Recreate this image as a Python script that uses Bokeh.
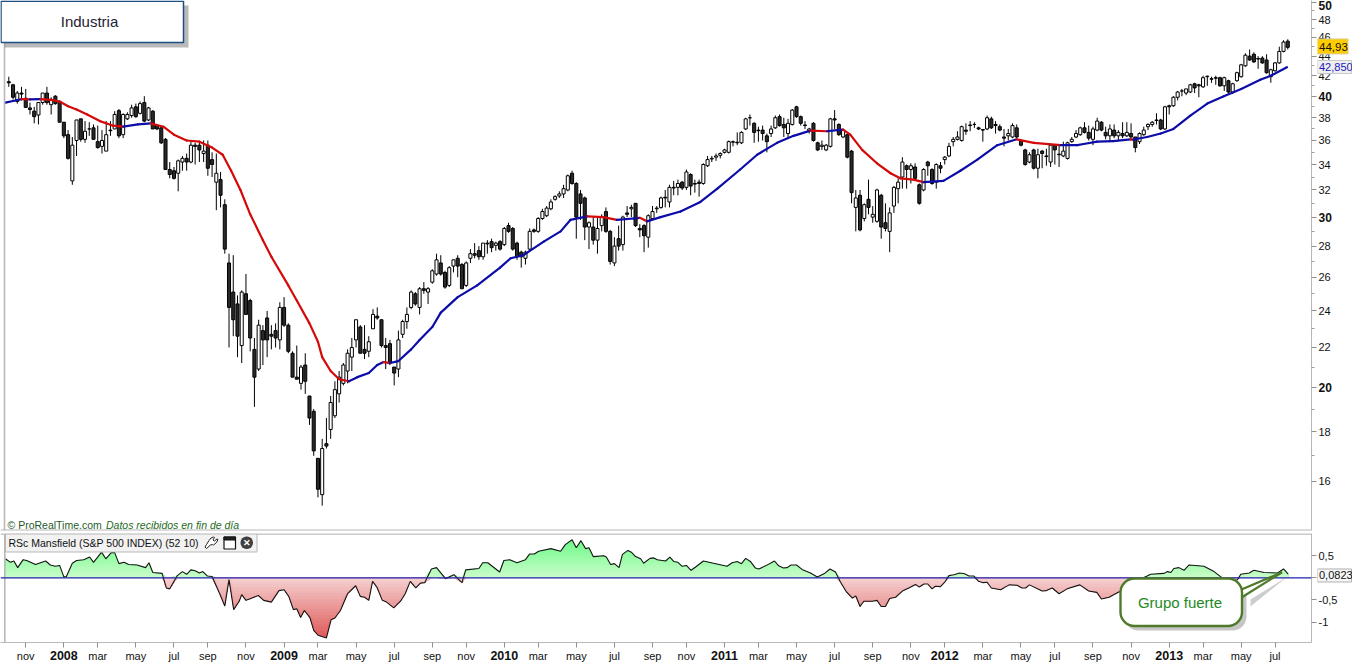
import numpy as np
from bokeh.plotting import figure
from bokeh.layouts import column, row
from bokeh.embed import file_html
from bokeh.resources import INLINE
from bokeh.core.properties import value
from bokeh.models import Range1d, FixedTicker, Label, BoxAnnotation, PolyAnnotation, Span

opens = [41.4,41.1,39.5,40.3,39.8,38.9,38.6,38.25,39.4,40.3,
39.2,40,39.5,37.6,36.5,32.7,36,37.9,36.1,37,
37.1,35.9,35.5,35.1,36.9,37,38.65,36.5,37.9,38.2,
39,38.4,39.4,37.8,38.6,37.3,37.1,36.1,33.6,33.5,
33.3,34.2,34.5,34.2,35.6,35.6,34.9,35.6,34.4,32.6,
32.8,30.9,26.9,25.1,24.4,22.1,25,24.6,21.9,20.9,
22.9,23.6,22.7,22.9,22.4,24.2,23.2,21.7,20.5,20.2,
21.1,19.6,18.9,16.9,15.5,17.5,18.1,18.7,19.7,20.2,
20.8,21.5,22.4,23.1,21.9,21.8,23,23.7,23.5,22.1,
22.2,21,20.9,22.7,23.4,24.2,25,24.2,25.3,25.1,
25.7,26.2,26.9,26.3,25.5,26.7,27.2,26.8,25.5,27.2,
27.5,27.7,27.3,28.2,28.3,28.05,28.3,28.1,29.4,29.2,
28.2,27.6,27.2,27.8,29.1,29,29.9,30.1,30.6,31.3,
31.55,31.7,32,33.3,32.5,31.7,31.4,29.3,29.3,28.4,
29.4,30.4,29,26.9,28.5,28.1,30.3,30.6,31,29.2,
29.4,28.6,29.9,30.6,30.7,31.45,31.1,32.2,32.2,32.6,
32.2,33.2,32.5,32.6,32.5,33.9,34.45,34.6,34.75,35,
35,35.85,35.85,35.8,37,38,37.5,36.9,36.9,36.4,
36.6,37.1,38.1,37.4,36.6,37.4,39,38.1,37.35,36.8,
37.5,35.8,35.5,35.2,35.5,37.9,37.4,36.3,36.5,35.1,
30.7,31.6,29.9,31.3,30,29.7,31.6,29.6,29,30.8,
32.1,33,33.9,33.6,33.8,32.4,32,34.2,33.6,32.6,
33.9,34.4,34.7,35.9,36.1,36,36.9,37.3,37.4,37.1,
36.95,37,37.9,37.4,37.2,36.3,36.4,36.3,37.1,36,
35.2,34.2,35.2,33.7,35.1,34.7,34.2,35.6,34.85,34.7,
34.5,35.9,36.3,36.5,37.1,36.7,36.1,36.9,37.6,36.7,
36.4,36.9,36.4,36.6,36.4,36.6,36.3,35.9,36.5,37.2,
37.4,37.8,37.8,37,39.1,39.1,39.9,40.5,40.3,40.4,
41.2,41.1,40.9,41.9,41.7,41.8,41.8,41,41.5,40.4,
41.5,41.9,43,44,44.2,43.75,43.8,43.6,41.9,42.5,43.3,44.5,45.6]

closes = [41.3,39.9,40.3,40.2,38.95,38.75,38.1,39.4,40.3,39.4,
39.7,39.3,37.6,36.4,34.5,35.6,37.8,36.1,36.8,37,
36.1,35.4,36,36.5,36.85,38.3,36.4,38.3,38.3,38.9,
38.1,39.3,37.7,38.9,37,37,35.8,33.6,33.2,32.9,
34.3,34.5,34.2,35.6,35.5,35.2,35.1,33.7,34,33.3,
31.6,27.8,24.2,23.5,22.6,25.1,23.8,22.5,20.5,23.2,
22.4,22.4,22.6,22.5,24.2,23.2,21.8,20.5,20.4,21,
20.3,18.6,17.2,15.7,17.3,17.4,19.3,19.9,20.5,21.1,
21.7,22,23.5,21.7,21.7,22.3,23.8,23.6,22.1,22,
21.2,20.7,22.4,23.4,23.8,25.1,24.4,25.3,25.2,25.3,
26.4,27.1,26.2,25.4,26.6,27.1,26.7,25.3,26.9,27.5,
27.4,27.3,28.2,28.15,27.9,28.2,27.8,29.2,29,27.8,
27.3,27.3,27.6,29,29,29.9,30.4,30.65,31.1,31.5,
31.7,32.1,33.1,32.5,30,31,29.3,29.6,28.4,29.2,
30,29,27,28,28,30,30.2,30.7,29.4,29.1,
28.7,30.1,30.4,30.65,31.4,31.4,32.2,32.15,32.5,32.15,
33.4,32.3,32.45,32.5,34,34.4,34.5,34.7,34.9,35.2,
35.9,35.9,35.8,36.7,37.9,38,36.7,36.85,36.6,35.9,
37,38,37.3,37.1,37.5,38.7,38.1,37.5,37.3,37,
36,35.2,35.6,35.6,37.9,37.8,36.5,36.9,34.6,31.8,
31.4,29.1,30.9,30.7,30.2,32,29.3,29.2,30.3,32.2,
32.6,34.2,33.6,33.9,32.9,31,33.6,33.9,32.5,34,
33.7,34.6,35.5,36.1,36.3,37.2,36.8,37.35,37.4,37,
36.9,38,37.1,37.3,36.9,36.2,36.6,37.3,36.3,35.6,
34,34.8,33.7,34.8,34.9,34.65,35.6,35.2,34.8,35.1,
35.8,36.1,36.6,37.1,36.7,36.2,37,37.7,36.9,36.4,
37,36.4,36.7,36.4,36.7,36.3,35.4,36.6,36.9,37.4,
37.6,37.75,37,39,39,39.9,40.4,40.5,40.7,41.1,
40.8,41,41.8,41.95,41.65,41.75,41,41.8,40.4,41.2,
42.3,43.1,44.1,43.6,43.4,43.7,43.3,42.3,42.6,43.3,44.5,45.5,44.93]

highs = [41.9,41.2,40.5,40.9,40.7,39.4,39.0,39.4,40.3,40.9,
39.9,40.1,39.6,37.6,36.9,36.3,37.8,37.9,37.7,37.6,
37.4,37.3,36.9,37.7,37.7,38.6,38.8,38.4,38.5,39.2,
39.3,39.5,40,39,38.7,37.4,37.2,36.2,34.2,33.8,
34.4,34.7,34.9,35.9,35.8,35.8,36,36,35,34.9,
33.4,31.3,27.5,27.4,24.9,25.2,26.2,24.7,22.5,23.5,
23.2,24,23.2,23.3,24.5,24.8,23.3,21.8,22.1,21.1,
21.7,19.6,19,16.9,17.7,18.6,19.6,20.3,20.8,21.2,
21.9,22.5,23.5,23.2,23.2,22.6,24.1,24.2,23.5,22.5,
22.4,21,22.9,23.5,24.2,25.2,25.1,25.4,25.7,25.4,
26.5,27.5,27.4,26.4,26.7,27.1,27.4,26.9,27,27.8,
28.2,28,28.2,28.4,28.5,28.3,28.4,29.3,29.6,29.3,
28.3,27.7,27.7,29.2,29.2,30,30.6,30.8,31.3,31.6,
31.9,32.4,33.2,33.5,32.6,32,31.5,29.7,30,30,
30.2,30.7,29.1,28.6,29.4,30.1,30.8,30.9,31,29.5,
29.5,30.2,30.8,30.8,31.5,32,32.4,32.7,32.8,32.7,
33.6,33.3,32.8,32.8,34.1,34.7,34.7,34.9,35,35.3,
36,36,36.7,36.8,38,38.3,37.6,37.2,37.3,36.6,
37.3,38.2,38.3,38,37.9,38.8,39.1,38.2,37.7,37.1,
37.6,35.9,36,35.7,38,38.7,37.5,37,36.6,35.2,
32,32,31,32.8,30.8,32.1,31.7,31,30.7,32.3,
32.9,34.6,34,34.1,34.1,32.5,33.7,34.3,33.7,34.1,
34.2,34.7,35.8,36.3,36.8,37.3,37.5,37.7,37.6,37.2,
37,38.2,38.1,37.7,37.4,37,37,37.5,37.4,36.1,
35.3,35,35.3,35.3,35.2,35.3,35.7,35.7,35.6,35.9,
35.9,36.3,36.9,37.2,37.6,37.3,37.2,38,37.7,37.2,
37.4,37.4,36.9,37.6,37.6,37.5,36.3,36.7,37.2,37.5,
37.7,38.4,37.9,39.1,39.2,40,40.5,40.7,40.7,41.2,
41.3,41.2,42,42,41.9,42,41.9,41.9,41.6,41.3,
42.4,43.2,44.3,44.7,44.4,44,44,44.2,42.7,43.4,45,45.7,45.8]

lows = [40.9,39.7,39.3,39.6,38.95,38.3,37.5,37.4,39.2,39.2,
38.3,39.2,37.6,36.2,34.4,32.4,34.7,35.9,35.8,36.4,
36.1,35.3,34.9,35.1,36.4,37,36.2,36.2,37.8,38,
38,38.3,37.6,37.7,37,36.9,35.7,33.6,32.9,32.8,
31.9,33.5,33.5,34.1,34,34.2,34.2,33.1,33,30.5,
30.7,27.5,22,22.6,21.5,21.2,23.8,21.8,19.1,20.8,
21.1,21.5,21.9,22,21.9,23.1,21.7,20.5,20.4,19.9,
19.7,18.3,17,15.4,15.1,17.3,17.7,18.6,19.3,20.1,
20.2,20.8,22,21.7,21.4,21.5,23,23.5,22,20.9,
21.1,20.1,20.5,22.5,23,24.1,24.3,23.8,25,24.4,
25.6,26.1,26.1,25.3,25.4,26.3,26,25.3,25.4,26.9,
27.2,27.1,27.1,27.5,27.6,27.7,27.7,28,28.9,27.7,
27.1,26.6,26.8,27.7,28.9,28.9,29.8,30,30.5,31.2,
31.4,31.4,31.9,32.4,28.5,29.8,28.4,27.8,28.1,27.5,
29,28.9,26.8,26.7,27.7,27.7,30,30,29.3,28.6,
27.6,27.9,29.8,30.3,30.6,30.7,30.7,31.6,31.6,32,
32,31.6,31.8,31.5,32.4,33.8,34.2,34.3,34.5,34.9,
34.9,35.5,35.6,35.7,36.9,37.3,35.8,35.9,36,35,
36.3,37,37.2,36.3,36.2,37.3,38,37.3,37,36.6,
35.9,35.1,35.2,35.1,35.4,37,36.4,36.2,34.5,31,
29,29,29.7,30.2,29.6,29.6,28.5,29,27.6,30.3,
31,32.1,32.1,32.5,32.8,30.9,31.9,33.1,32.4,32.1,
33.3,34,34.6,35.5,36,35.9,36.5,36.8,37.1,36.9,
35.9,36.9,37,36.6,36.8,35.5,36,36.2,36.2,35.5,
33.9,34.1,33.6,32.9,33.7,33.9,33.8,34,33.8,34.6,
34.4,35.8,36.2,36.4,36.6,36,35.6,36.8,36.8,36.1,
35.9,36.2,36,36.2,36.3,36.2,35,35.7,36.4,36.9,
37.2,37.4,36.9,36.9,38.3,39,39.6,40,40.1,40.3,
40.3,39.9,40.8,41,41.3,41.1,40.9,40.5,40.3,40.2,
41.4,41.8,42.9,43.5,43.3,42.7,43.2,42.2,41.3,42.4,43.2,44.4,44.7]

ma_week = [-0.8,1,3,5,7.5,10,12,14,16,18.5,21.5,24.5,27,30.5,33.5,36.5,39,42,45,48,50.5,52.5,54.7,57,60,62,66,68,71,73,74,76,78,80.3,82.3,85,87,88.5,90,92,95,97,100,102,106,110.6,116,118.5,121.5,126.3,130.3,132.6,136.6,140.4,143.6,147.5,149,150.7,153.9,158.6,163.3,167.3,172.7,176.7,181.4,185.3,189.3,193.2,195.6,197,198.7,201.5,205,208.2,210.5,213.6,216,220.7,224.7,228.7,233.4,238,242,248.4,252.3,253.8,257,260.8,264.9,265.5,266.5,268.8,272,275,279,283,286.9,291,295.5,298,301.8]
ma_val = [39.4,39.55,39.72,39.7,39.72,39.65,39.5,39.05,38.75,38.3,37.7,37.3,37.2,37.4,37.5,37.2,36.5,36,35.9,35.4,34.8,33.5,32,30.2,28.4,27.3,25.5,24.6,23.3,22.3,21.5,20.8,20.4,20.3,20.5,20.7,21.1,21.25,21.2,21.3,21.9,22.4,23.1,23.9,24.8,25.5,26.6,27.2,27.4,28.3,29,29.8,30.05,30,29.8,29.9,29.95,29.7,30,30.4,31.1,32.1,33.6,34.8,35.8,36.4,36.85,36.8,36.9,36.95,36.5,35.2,34.1,33.3,32.9,32.8,32.6,32.7,33.5,34.4,35.6,36.1,35.8,35.6,35.6,35.7,35.9,35.95,36.1,36.08,36.15,36.3,36.6,37,38.2,39.3,40,40.7,41.6,42,42.85]

rsc_week = [-0.8,0.4,1.2,2.1,3.4,4.2,6.3,8.7,9.8,11,12,13,13.6,15,16,17.7,19.1,20,21.9,22.9,24.2,25,26,27.2,28.3,30.3,32.3,33.1,34,36.2,37.2,38,39.8,41,42,43,44,45,45.8,46.9,48,49.8,51,52,53.1,54.4,55,56,57,58.9,60.2,62,63.8,65,66.1,67.2,68,68.9,69.8,71.1,72,73,75,76.1,77,78.3,80,81.9,83,84,85,85.9,86.9,88.2,89.2,90.9,92.5,93.6,94.8,96.1,97.2,98.2,99.8,101,103.1,105.1,107,107.9,111,111.9,113.1,115.9,116.9,118.3,120,122,123,124.1,125.1,128,130.3,131.4,133,134,135.1,136.2,137,138,140.5,141.1,142.1,143,144.1,144.9,146.2,147,148,149.2,149.9,151.4,152.3,153.1,155.1,156.1,157,158,159,160,161.1,162.1,164,169.6,170.8,172,173,174,175.1,176.3,177.1,178.7,180.8,181.8,182.9,183.8,184.7,186,187.3,189.3,190.9,192.5,193.9,195.2,196.4,197.8,199.2,200,201,201.9,203.9,205,206,207,208,209.4,211,212.5,214.1,215,216.1,217,218,218.8,220,221,222,223.2,224.5,225.7,226.7,227.9,229,230.1,231,232,234.2,236.2,238.1,239.2,240.1,241,244,245,246.4,248,249.9,252.9,255,256.9,258,259.8,262.1,264,266,267.5,268.8,269.6,272.8,273.6,274.4,275.1,276.3,277.5,278.7,282.2,284.6,286.2,287.7,289.3,290.3,290.9,292.9,294,296.4,299.6,301,302.1]
rsc_val = [.43,.35,.38,.23,.41,.39,.30,.38,.29,.26,.28,.02,.03,.33,.39,.41,.47,.35,.58,.43,.57,.57,.32,.35,.30,.29,.23,.34,.12,.10,-.23,-.25,.05,.14,.08,.18,.16,.11,.14,.04,.03,-.36,-.64,-.04,-.72,-.53,-.38,-.51,-.475,-.40,-.51,-.55,-.29,-.27,-.42,-.72,-.70,-.90,-.74,-.90,-1.19,-1.30,-1.36,-.95,-.91,-.74,-.36,-.18,-.42,-.44,-.51,-.08,-.21,-.51,-.55,-.68,-.53,-.36,-.08,-.23,-.12,-.11,.20,.23,-.02,.07,-.11,.18,.21,.34,.34,.13,.39,.41,.34,.41,.54,.54,.60,.66,.60,.75,.86,.68,.84,.66,.68,.48,.50,.47,.30,.32,.23,.53,.62,.58,.48,.43,.33,.44,.45,.41,.38,.47,.37,.35,.26,.28,.17,.24,.38,.26,.34,.37,.32,.44,.37,.22,.20,.27,.38,.27,.22,.23,.29,.29,.19,.11,.02,.09,.20,.13,-.10,-.32,-.46,-.41,-.65,-.53,-.53,-.51,-.65,-.65,-.47,-.44,-.30,-.23,-.15,-.21,-.14,-.14,-.25,-.19,-.20,-.10,.05,.07,.11,.09,.04,.04,-.08,-.11,-.10,-.23,-.27,-.16,-.17,-.23,-.23,-.16,-.30,-.29,-.23,-.36,-.25,-.16,-.30,-.33,-.48,-.44,-.32,-.26,-.15,-.02,.04,.08,.10,.14,.12,.21,.23,.17,.29,.26,.14,.02,-.1,-.12,-.02,.08,.11,.17,.12,.11,.20,.0823]

price_ticks = [16,18,20,22,24,26,28,30,32,34,36,38,40,42,44,46,48,50]
price_minor = [17,19,21,23,25,27,29,31,33,35,37,39,41,43,45,47,49]
price_bold = [20,30,40,50]
rsc_ticks = [0.5,0,-0.5,-1]
rsc_labels = ["0,5","","-0,5","-1"]
x_ticks = [4,13,21,30,39,47,56,65,73,82,91,100,108,117,125,134,143,152,160,169,177,186,195,204,213,221,230,239,247,256,265,274,282,291,299]
x_names = ["nov","2008","mar","may","jul","sep","nov","2009","mar","may","jul","sep","nov","2010","mar","may","jul","sep","nov","2011","mar","may","jul","sep","nov","2012","mar","may","jul","sep","nov","2013","mar","may","jul"]

FONT = "Liberation Sans"
GRID = "#b8b8b8"
PW = 1352
F_R = 1311                  # frame right in page pixels (frames start at page x = 0)
STRIP = 1317
T1, B1 = 0, 530             # top panel frame
T2, B2 = 533, 642           # lower panel frame
STEP = 4.235; X0 = 8.3
xr = Range1d((0 - X0) / STEP, (F_R - X0) / STEP)
def px2idx(x):
    return (x - X0) / STEP

o, c, h, l = map(np.array, (opens, closes, highs, lows))
idx = np.arange(len(o))
up = c >= o

def style_axis(a):
    a.major_label_standoff = 0
    a.major_label_text_font_size = "1px"
    a.axis_line_color = GRID
    a.major_tick_line_color = "#909090"
    a.minor_tick_line_color = None
    a.major_tick_out = 5; a.major_tick_in = 0

def strip_text(fig, x, y, text, size, bold=False, color="#111111", align="left"):
    fig.text(x, y, text=text, text_font=value(FONT), text_font_size=size,
             text_font_style="bold" if bold else "normal", text_color=color,
             text_align=align, text_baseline="middle")

def strip_tag(fig, x, y, w, h, fill, edge):
    fig.rect([x], [y], width=w, height=h, width_units="screen", height_units="screen",
             fill_color=fill, line_color=edge, line_width=1)

# --- price panel ----------------------------------------------------------
P40 = 95.7; K = 420.3
def px2price(y):
    return 40 * np.exp((P40 - y) / K)

yr1 = Range1d(px2price(B1), px2price(T1))
p1 = figure(width=STRIP, height=531, output_backend="svg", toolbar_location=None,
            y_axis_type="log", y_axis_location="right", x_axis_location=None,
            x_range=xr, y_range=yr1, min_border_left=0, min_border_right=STRIP - F_R,
            min_border_top=0, min_border_bottom=1)
p1.grid.visible = False
p1.outline_line_color = None
ax = p1.yaxis[0]
style_axis(ax)
ax.ticker = FixedTicker(ticks=price_ticks, minor_ticks=price_minor)
ax.major_label_overrides = {t: "" for t in price_ticks}
ax.minor_tick_line_color = "#a0a0a0"
ax.minor_tick_out = 3; ax.minor_tick_in = 0

p1.add_layout(Span(location=px2idx(4), dimension="height", line_color=GRID, line_width=1.6))
p1.add_layout(Span(location=px2price(529.7), dimension="width", line_color=GRID, line_width=1.6))

p1.segment(idx, l, idx, h, color="black", line_width=1)
p1.vbar(idx[up], 0.72, c[up], o[up], fill_color="white", line_color="black", line_width=1)
p1.vbar(idx[~up], 0.72, o[~up], c[~up], fill_color="#2a2a2a", line_color="black", line_width=1)

mw, mv = np.array(ma_week), np.array(ma_val)
falling = mv[1:] < mv[:-1]
cols = ["#d40a0a" if f else "#0c0ca8" for f in falling]
p1.multi_line([[a, b] for a, b in zip(mw[:-1], mw[1:])],
              [[a, b] for a, b in zip(mv[:-1], mv[1:])],
              line_color=cols, line_width=2.2, line_cap="round")

def s1y(y): return B1 - y
def box1(lft, rgt, top, bot, **kw):
    return BoxAnnotation(left=lft, right=rgt, top=s1y(top), bottom=s1y(bot),
                         left_units="screen", right_units="screen", top_units="screen", bottom_units="screen", **kw)
p1.add_layout(box1(4, 188, 5, 47, fill_color="#808080", fill_alpha=0.55, line_color=None))
p1.add_layout(box1(0.5, 183, 0.7, 42, fill_color="white", fill_alpha=1, line_color="#1f4e80", line_alpha=1, line_width=1.5))
p1.add_layout(Label(x=89, x_units="screen", y=s1y(21), y_units="screen", text="Industria",
                    text_font=FONT, text_font_size="15px", text_color="#222233",
                    text_align="center", text_baseline="middle"))
p1.add_layout(Label(x=7, x_units="screen", y=s1y(524), y_units="screen", text="© ProRealTime.com",
                    text_font=FONT, text_font_size="10.5px", text_color="#1d5a2a",
                    text_align="left", text_baseline="middle"))
p1.add_layout(Label(x=105.5, x_units="screen", y=s1y(524), y_units="screen", text="Datos recibidos en fin de día",
                    text_font=FONT, text_font_size="10.5px", text_font_style="italic", text_color="#1d6a1d",
                    text_align="left", text_baseline="middle"))

# right strip of the price panel: tick labels and value tags
s1 = figure(width=PW - STRIP, height=531, output_backend="svg", toolbar_location=None,
            y_axis_type="log", x_axis_location=None, y_axis_location=None,
            x_range=Range1d(STRIP, PW), y_range=yr1, min_border_left=0, min_border_right=0,
            min_border_top=0, min_border_bottom=1)
s1.grid.visible = False
s1.outline_line_color = None
reg = [t for t in price_ticks if t not in price_bold]
strip_text(s1, [1318] * len(reg), reg, [str(t) for t in reg], "11px")
strip_text(s1, [1318] * len(price_bold), [min(t, 49.6) for t in price_bold], [str(t) for t in price_bold], "12px", bold=True)
strip_tag(s1, 1332, closes[-1] + 0.1, 31, 15, "#ffcc00", "#d8d098")
strip_text(s1, [1318.5], [closes[-1] + 0.08], ["44,93"], "11.5px")
strip_tag(s1, 1334, ma_val[-1] + 0.03, 34, 13, "#f0f0f0", "#c8c8c8")
strip_text(s1, [1318.5], [ma_val[-1] + 0.03], ["42,850"], "11px", color="#2020c0")

# --- Mansfield panel --------------------------------------------------------
Z0 = 577.3; U = 44.2
def px2rsc(y):
    return (Z0 - y) / U

yr2 = Range1d(px2rsc(B2), px2rsc(T2))
p2 = figure(width=STRIP, height=117, output_backend="svg", toolbar_location=None,
            y_axis_location="right", x_range=xr, y_range=yr2,
            min_border_left=0, min_border_right=STRIP - F_R, min_border_top=2, min_border_bottom=6)
p2.grid.visible = False
p2.outline_line_color = None
yx = p2.yaxis[0]
style_axis(yx)
yx.ticker = FixedTicker(ticks=rsc_ticks)
yx.major_label_overrides = {t: "" for t in rsc_ticks}
xa = p2.xaxis[0]
style_axis(xa)
xa.ticker = FixedTicker(ticks=x_ticks)
xa.major_label_overrides = {t: "" for t in x_ticks}

p2.add_layout(Span(location=px2idx(4.3), dimension="height", line_color=GRID, line_width=1.6))
p2.add_layout(Span(location=px2rsc(533.5), dimension="width", line_color=GRID, line_width=1.6))

rw, rv = np.array(rsc_week), np.array(rsc_val)
def mix(a, b, t):
    return "#%02x%02x%02x" % tuple(int(round(a[i] + (b[i] - a[i]) * t)) for i in range(3))
# gradient fill built from overlapping layers, outermost level first
for lev in np.arange(0.9, 0.0, -0.05):
    p2.varea(rw, np.zeros_like(rv), np.clip(rv, 0, lev),
             fill_color=mix((205, 253, 205), (108, 250, 135), lev / 0.9))
for lev in np.arange(-1.4, 0.0, 0.07):
    p2.varea(rw, np.zeros_like(rv), np.clip(rv, lev, 0),
             fill_color=mix((246, 212, 212), (222, 88, 88), -lev / 1.4))
p2.add_layout(Span(location=0, dimension="width", line_color="#2222b0", line_width=1.2))
p2.line(rw, rv, line_color="#151515", line_width=1.1)

def s2y(y): return B2 - y
def box(l, r, t, b, **kw):
    return BoxAnnotation(left=l, right=r, top=s2y(t), bottom=s2y(b),
                         left_units="screen", right_units="screen", top_units="screen", bottom_units="screen", **kw)

# header strip
p2.add_layout(box(5, 256.5, 533.5, 551.5, fill_color="#f2f2f2", fill_alpha=1, line_color="#b8b8b8", line_alpha=1, line_width=1))
p2.add_layout(Label(x=8, x_units="screen", y=s2y(542.5), y_units="screen",
                    text="RSc Mansfield (S&P 500 INDEX) (52 10)", text_font=FONT, text_font_size="10.5px",
                    text_color="#111111", text_align="left", text_baseline="middle"))
wx = [204.5,206,210,212,213,216,217.5,216.5,214,212.5,214,213,210.5,208.5,206]
wy = [546.5,548,544.5,544,544.5,542,539,538.5,540.5,539.5,537,536.5,537.5,540,544]
p2.add_layout(PolyAnnotation(xs=wx, ys=[s2y(b) for b in wy], xs_units="screen", ys_units="screen",
                             fill_color="white", fill_alpha=1, line_color="#222222", line_alpha=1, line_width=1))
p2.add_layout(box(223.5, 235, 536.5, 548.5, fill_color="white", fill_alpha=1, line_color="#111111", line_alpha=1, line_width=1.2))
p2.add_layout(box(223.5, 235, 536.5, 539.5, fill_color="#222222", fill_alpha=1, line_color="#111111", line_alpha=1, line_width=1))
p2.add_layout(box(240, 252.5, 536, 548.5, fill_color="#404040", fill_alpha=1, line_color=None, border_radius=6))
p2.add_layout(Label(x=246.3, x_units="screen", y=s2y(542), y_units="screen", text="✕",
                    text_font=FONT, text_font_size="9px", text_font_style="bold", text_color="white",
                    text_align="center", text_baseline="middle"))

# callout
GR = "#4f7a2a"
p2.add_layout(box(1124, 1246, 583, 630, fill_color="#707070", fill_alpha=0.4, line_color=None, border_radius=14))
p2.add_layout(PolyAnnotation(xs=[1250, 1287, 1250], ys=[s2y(599), s2y(576), s2y(606)],
                             xs_units="screen", ys_units="screen", fill_color="#707070", fill_alpha=0.35, line_color=None))
tx, ty = [1241, 1281.7, 1241], [589, 571.7, 597]
p2.add_layout(PolyAnnotation(xs=tx, ys=[s2y(b) for b in ty], xs_units="screen", ys_units="screen",
                             fill_color="white", fill_alpha=1, line_color=GR, line_alpha=1, line_width=2.2))
p2.add_layout(box(1120, 1241.5, 578, 625.5, fill_color="white", fill_alpha=1, line_color=GR, line_alpha=1, line_width=2.4, border_radius=14))
p2.add_layout(Label(x=1179.5, x_units="screen", y=s2y(601.5), y_units="screen", text="Grupo fuerte",
                    text_font=FONT, text_font_size="15px", text_color="#1e8a1e",
                    text_align="center", text_baseline="middle"))

# right strip of the lower panel
s2 = figure(width=PW - STRIP, height=117, output_backend="svg", toolbar_location=None,
            x_axis_location=None, y_axis_location=None, x_range=Range1d(STRIP, PW), y_range=yr2,
            min_border_left=0, min_border_right=0, min_border_top=2, min_border_bottom=6)
s2.grid.visible = False
s2.outline_line_color = None
strip_text(s2, [1318] * len(rsc_ticks), rsc_ticks, rsc_labels, "11px")
strip_tag(s2, 1334, rsc_val[-1] - 0.03, 34, 13, "#f6f6f6", "#b0b0b0")
strip_text(s2, [1318.5], [rsc_val[-1] - 0.03], ["0,0823"], "11px")

# bottom strip: month and year labels
s3 = figure(width=PW, height=14, output_backend="svg", toolbar_location=None,
            x_axis_location=None, y_axis_location=None, x_range=xr, y_range=Range1d(0, 1),
            min_border_left=0, min_border_right=PW - F_R, min_border_top=0, min_border_bottom=0)
s3.grid.visible = False
s3.outline_line_color = None
is_year = np.array([n.isdigit() for n in x_names])
xt = np.array(x_ticks)
strip_text(s3, xt[~is_year], [0.5] * int((~is_year).sum()), [n for n in x_names if not n.isdigit()], "11px", align="center")
strip_text(s3, xt[is_year], [0.5] * int(is_year.sum()), [n for n in x_names if n.isdigit()], "12.5px", bold=True, align="center")

page = column(row(p1, s1, spacing=0), row(p2, s2, spacing=0), s3, spacing=0)
open("out.html", "w").write(file_html(page, INLINE))
